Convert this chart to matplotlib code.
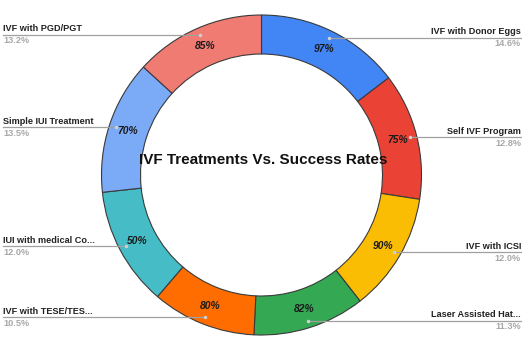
import numpy as np
import matplotlib.pyplot as plt

# data
treatments = ['IVF with Donor Eggs', 'Self IVF Program', 'IVF with ICSI', 'Laser Assisted Hat...',
              'IVF with TESE/TES...', 'IUI with medical Co...', 'Simple IUI Treatment', 'IVF with PGD/PGT']
share = [14.6, 12.8, 12.0, 11.3, 10.5, 12.0, 13.5, 13.2]
success = [97, 75, 90, 82, 80, 50, 70, 85]
colors = ['#4285F4', '#EA4335', '#FBBC04', '#34A853', '#FF6D01', '#46BDC6', '#7BAAF7', '#F07B72']

plt.rcParams['font.family'] = ['Liberation Sans', 'DejaVu Sans']

W, H = 522, 348
fig = plt.figure(figsize=(W / 100, H / 100), dpi=100)
ax = fig.add_axes([0, 0, 1, 1])

cx, cy = 261.5, H - 175
R = 160
ring = 39

wedges, _ = ax.pie(share, colors=colors, startangle=90, counterclock=False,
                   center=(cx, cy), radius=R, frame=True,
                   wedgeprops={'width': ring, 'edgecolor': '#3a3a3a', 'linewidth': 0.8})
ax.set_xlim(0, W)
ax.set_ylim(0, H)
ax.set_aspect('equal')
ax.axis('off')

for w, name, s, rate in zip(wedges, treatments, share, success):
    mid = np.deg2rad((w.theta1 + w.theta2) / 2)
    # percent label in the middle of the ring
    rm = R - ring / 2
    ax.text(cx + rm * np.cos(mid), cy + rm * np.sin(mid), f'{rate}%',
            ha='center', va='center', fontsize=7.4, fontweight='bold',
            fontstyle='italic', color='#1a1a1a')
    # leader line
    ra = R - 7
    x0, y0 = cx + ra * np.cos(mid), cy + ra * np.sin(mid)
    right = np.cos(mid) > 0
    x1 = W - 1 if right else 3
    ax.plot([x0, x1], [y0, y0], color='#a0a0a0', lw=0.9, zorder=3)
    ax.plot([x0], [y0], 'o', ms=1.5, color='#d0d0d0', zorder=4)
    ha = 'right' if right else 'left'
    ax.text(x1, y0 + 1.5, name, ha=ha, va='bottom', fontsize=6.6,
            fontweight='bold', color='#222222')
    ax.text(x1, y0 - 1.5, f'{s:.1f}%', ha=ha, va='top', fontsize=6.6,
            fontweight='bold', color='#a8a8a8')

ax.text(cx + 2, H - 160, 'IVF Treatments Vs. Success Rates', ha='center', va='center',
        fontsize=11, fontweight='bold', color='#111111')

fig.savefig('out.png', dpi=100)
